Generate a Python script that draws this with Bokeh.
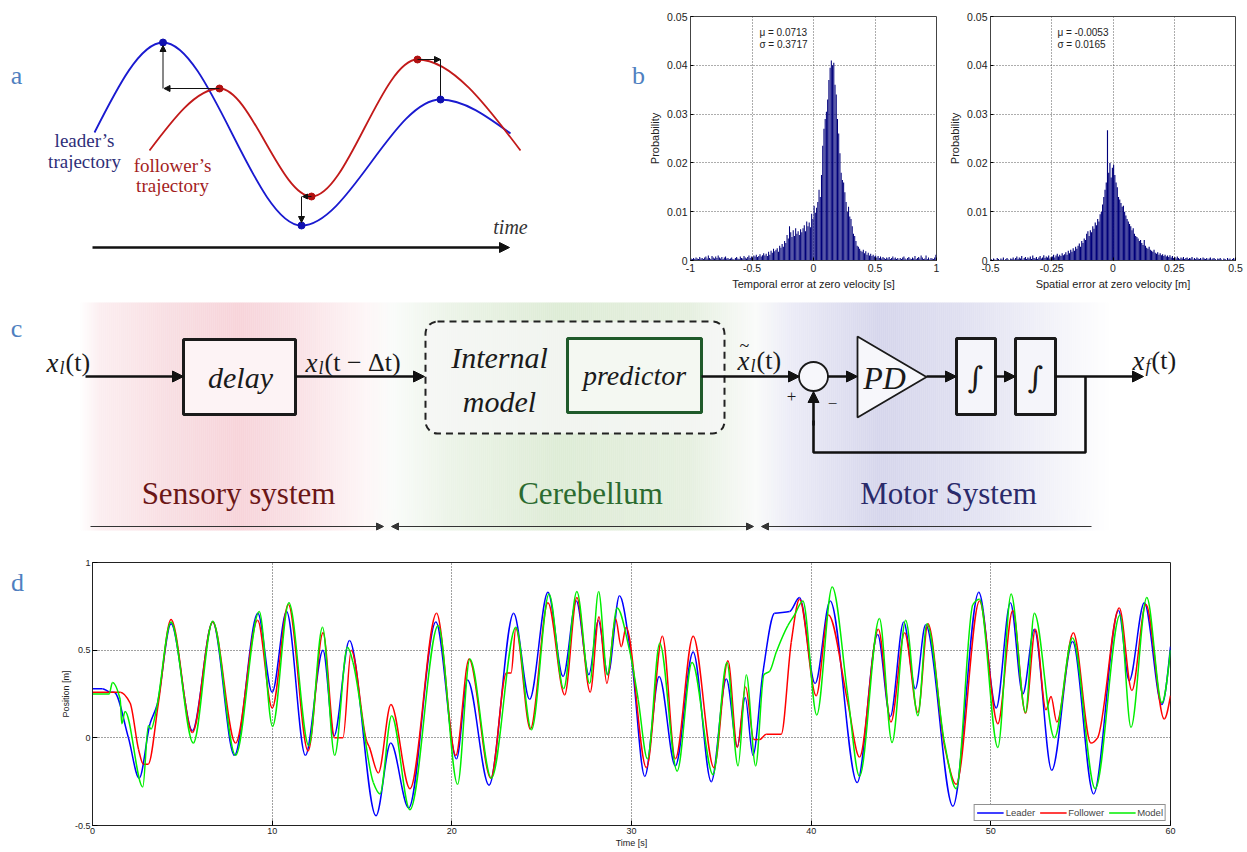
import numpy as np
from bokeh.plotting import figure
from bokeh.layouts import column, row
from bokeh.models import (Range1d, Label, Arrow, NormalHead, FixedTicker,
                          BoxAnnotation, Legend)
from bokeh.embed import file_html
from bokeh.resources import INLINE

# ---------------- panel a: schematic trajectories (extrema, page px) ----
a_leader_x = [94, 162.5, 301, 440, 510]
a_leader_y = [132, 42, 225, 99, 133]
a_follower_x = [149, 219, 311, 417, 520]
a_follower_y = [150, 88, 196, 59, 150]

# ---------------- panel b: histograms ----------------
temporal_values = [
    0.0004, 0.0003, 0.0005, 0.0003, 0.0006, 0.0004, 0.0003, 0.0007, 0.0004, 0.0005,
    0.0003, 0.0006, 0.0008, 0.0004, 0.0010, 0.0005, 0.0003, 0.0009, 0.0006, 0.0004,
    0.0008, 0.0005, 0.0010, 0.0006, 0.0004, 0.0007, 0.0003, 0.0006, 0.0008, 0.0004,
    0.0005, 0.0003, 0.0004, 0.0006, 0.0003, 0.0002, 0.0005, 0.0007, 0.0004, 0.0003,
    0.0008, 0.0005, 0.0004, 0.0009, 0.0006, 0.0004, 0.0007, 0.0010, 0.0005, 0.0008,
    0.0006, 0.0010, 0.0008, 0.0012, 0.0007, 0.0009, 0.0013, 0.0008, 0.0011, 0.0015,
    0.0010, 0.0014, 0.0009, 0.0018, 0.0012, 0.0020, 0.0016, 0.0024, 0.0019, 0.0022,
    0.0025, 0.0018, 0.0030, 0.0026, 0.0034, 0.0028, 0.0040, 0.0036, 0.0052, 0.0045,
    0.0070, 0.0058, 0.0048, 0.0062, 0.0050, 0.0066, 0.0055, 0.0060, 0.0052, 0.0064,
    0.0058, 0.0066, 0.0072, 0.0060, 0.0080, 0.0070, 0.0078, 0.0068, 0.0096, 0.0085,
    0.0112, 0.0098, 0.0108, 0.0120, 0.0145, 0.0130, 0.0175, 0.0235, 0.0270, 0.0290,
    0.0305, 0.0330, 0.0370, 0.0395, 0.0410, 0.0400, 0.0405, 0.0360, 0.0340, 0.0290,
    0.0260, 0.0220, 0.0180, 0.0165, 0.0160, 0.0140, 0.0120, 0.0100, 0.0110, 0.0090,
    0.0085, 0.0070, 0.0055, 0.0050, 0.0040, 0.0030, 0.0028, 0.0024, 0.0020, 0.0018,
    0.0022, 0.0015, 0.0019, 0.0012, 0.0016, 0.0010, 0.0014, 0.0009, 0.0012, 0.0008,
    0.0010, 0.0006, 0.0009, 0.0005, 0.0008, 0.0004, 0.0007, 0.0005, 0.0003, 0.0006,
    0.0004, 0.0007, 0.0003, 0.0005, 0.0008, 0.0004, 0.0006, 0.0003, 0.0005, 0.0002,
    0.0005, 0.0003, 0.0006, 0.0008, 0.0004, 0.0002, 0.0005, 0.0007, 0.0004, 0.0003,
    0.0006, 0.0004, 0.0009, 0.0003, 0.0005, 0.0007, 0.0004, 0.0010, 0.0006, 0.0003,
    0.0004, 0.0010, 0.0003, 0.0006, 0.0002, 0.0005, 0.0004, 0.0003, 0.0006, 0.0012]
spatial_values = [
    0.0003, 0.0000, 0.0004, 0.0002, 0.0000, 0.0005, 0.0003, 0.0000, 0.0004, 0.0002,
    0.0006, 0.0000, 0.0003, 0.0005, 0.0002, 0.0000, 0.0004, 0.0003, 0.0006, 0.0002,
    0.0005, 0.0008, 0.0003, 0.0006, 0.0004, 0.0009, 0.0002, 0.0005, 0.0007, 0.0003,
    0.0006, 0.0004, 0.0008, 0.0003, 0.0010, 0.0005, 0.0004, 0.0007, 0.0003, 0.0006,
    0.0009, 0.0004, 0.0006, 0.0011, 0.0005, 0.0008, 0.0006, 0.0010, 0.0004, 0.0007,
    0.0008, 0.0012, 0.0006, 0.0010, 0.0014, 0.0008, 0.0012, 0.0009, 0.0015, 0.0011,
    0.0013, 0.0017, 0.0012, 0.0020, 0.0015, 0.0022, 0.0018, 0.0025, 0.0020, 0.0028,
    0.0024, 0.0030, 0.0035, 0.0028, 0.0040, 0.0036, 0.0045, 0.0042, 0.0055, 0.0060,
    0.0050, 0.0062, 0.0058, 0.0070, 0.0065, 0.0078, 0.0072, 0.0085, 0.0080, 0.0095,
    0.0100, 0.0115, 0.0130, 0.0145, 0.0160, 0.0267, 0.0180, 0.0200, 0.0170, 0.0190,
    0.0196, 0.0175, 0.0160, 0.0150, 0.0130, 0.0125, 0.0118, 0.0110, 0.0112, 0.0100,
    0.0092, 0.0085, 0.0080, 0.0075, 0.0070, 0.0062, 0.0066, 0.0055, 0.0050, 0.0048,
    0.0045, 0.0040, 0.0042, 0.0036, 0.0032, 0.0042, 0.0030, 0.0026, 0.0024, 0.0028,
    0.0022, 0.0020, 0.0018, 0.0022, 0.0016, 0.0014, 0.0017, 0.0012, 0.0015, 0.0011,
    0.0013, 0.0009, 0.0012, 0.0008, 0.0010, 0.0007, 0.0011, 0.0006, 0.0009, 0.0005,
    0.0007, 0.0004, 0.0008, 0.0005, 0.0003, 0.0006, 0.0004, 0.0007, 0.0003, 0.0005,
    0.0006, 0.0003, 0.0005, 0.0004, 0.0007, 0.0002, 0.0005, 0.0003, 0.0006, 0.0004,
    0.0003, 0.0005, 0.0002, 0.0006, 0.0004, 0.0003, 0.0005, 0.0002, 0.0004, 0.0006,
    0.0002, 0.0004, 0.0005, 0.0003, 0.0000, 0.0004, 0.0003, 0.0005, 0.0002, 0.0000,
    0.0004, 0.0003, 0.0000, 0.0005, 0.0002, 0.0004, 0.0000, 0.0003, 0.0005, 0.0002]
temporal_ticks = [-1, -0.5, 0, 0.5, 1]
temporal_tick_labels = ["-1", "-0.5", "0", "0.5", "1"]
spatial_ticks = [-0.5, -0.25, 0, 0.25, 0.5]
spatial_tick_labels = ["-0.5", "-0.25", "0", "0.25", "0.5"]
prob_ticks = [0, 0.01, 0.02, 0.03, 0.04, 0.05]
prob_tick_labels = ["0", "0.01", "0.02", "0.03", "0.04", "0.05"]

# ---------------- panel d: time series (turning points) ----------------
leader_t = [0, 0.55, 1.0, 1.2, 2.0, 2.6, 3.2, 3.6, 4.37, 5.56, 6.69, 7.9, 9.2, 10.0, 10.8,
            11.85, 12.83, 13.44, 14.3, 15.78, 16.6, 17.6, 19.11, 20.26, 20.87, 22.07, 23.44,
            24.33, 25.35, 26.19, 26.93, 27.63, 28.15, 28.69, 29.33, 30.0, 30.74, 31.54, 32.44,
            33.43, 34.44, 35.28, 35.89, 36.33, 36.76, 37.31, 37.96, 38.8, 39.35, 40.22, 41.06,
            42.56, 43.7, 44.4, 45.15, 45.8, 46.37, 47.89, 49.33, 50.3, 51.09, 51.78, 52.42,
            53.39, 54.55, 55.72, 57.11, 57.7, 58.54, 59.52, 60.0]
leader_v = [0.28, 0.28, 0.26, 0.26, 0.0, -0.23, 0.08, 0.19, 0.65, 0.04, 0.66, -0.10, 0.71, 0.26, 0.72,
            -0.10, 0.50, 0.01, 0.555, -0.445, -0.03, -0.40, 0.66, -0.12, 0.33, -0.27, 0.71,
            0.22, 0.83, 0.35, 0.78, 0.36, 0.67, 0.36, 0.81, 0.45, -0.22, 0.35, -0.16,
            0.49, -0.25, 0.335, -0.05, 0.23, -0.10, 0.37, 0.71, 0.72, 0.80, 0.31, 0.78,
            -0.255, 0.59, 0.12, 0.66, 0.28, 0.645, -0.39, 0.83, 0.17, 0.77, 0.25, 0.62,
            -0.185, 0.55, -0.32, 0.726, 0.326, 0.77, 0.19, 0.52]
follower_t = [0, 1.55, 2.09, 2.56, 2.83, 3.1, 3.67, 4.37, 5.56, 6.69, 7.96, 9.19, 10.0, 10.9,
              12.0, 12.83, 13.48, 13.94, 14.4, 15.26, 15.4, 15.91, 16.61, 17.67, 19.15, 20.22,
              20.96, 22.17, 23.04, 23.3, 23.56, 24.37, 25.35, 26.28, 26.96, 27.7, 28.19, 28.63,
              29.11, 29.43, 29.7, 30.83, 31.72, 32.44, 33.43, 34.59, 35.37, 35.89, 36.35, 36.81,
              37.13, 37.5, 38.33, 38.89, 39.35, 40.28, 40.96, 42.04, 42.69, 43.74, 44.44, 45.2,
              45.94, 46.5, 47.42, 48.07, 49.37, 50.39, 51.22, 51.93, 52.48, 53.07, 53.35, 53.67,
              54.59, 55.57, 55.94, 57.15, 57.85, 58.63, 59.65, 60.0]
follower_v = [0.26, 0.26, 0.20, -0.065, -0.15, -0.15, 0.20, 0.675, 0.03, 0.66, -0.03, 0.67, 0.17, 0.76,
              -0.075, 0.60, 0.0, 0.0, 0.50, -0.02, -0.05, -0.20, 0.19, -0.29, 0.71, -0.10,
              0.45, -0.23, 0.37, 0.37, 0.625, 0.05, 0.77, 0.245, 0.80, 0.26, 0.69, 0.31,
              0.68, 0.52, 0.63, -0.17, 0.58, -0.12, 0.58, -0.17, 0.44, -0.055, 0.29, -0.01,
              -0.01, 0.02, 0.02, 0.545, 0.79, 0.24, 0.70, 0.20, -0.11, 0.62, 0.09, 0.60,
              0.145, 0.65, -0.045, -0.265, 0.78, 0.08, 0.726, 0.14, 0.62, 0.16, 0.236, 0.09,
              0.60, -0.03, 0.0, 0.74, 0.27, 0.76, 0.107, 0.24]
model_t = [0, 0.93, 1.11, 1.54, 1.63, 1.81, 2.8, 3.11, 3.26, 3.57, 4.37, 5.61, 6.69, 7.96, 9.28,
           10.02, 10.93, 12.04, 12.8, 13.48, 14.19, 14.5, 15.63, 16.0, 16.65, 17.67, 19.24, 20.32,
           21.0, 22.2, 23.56, 24.43, 25.41, 26.22, 26.96, 27.67, 28.17, 28.65, 29.2, 29.89, 30.37,
           30.89, 31.57, 32.54, 33.37, 34.54, 35.31, 35.93, 36.39, 36.91, 37.37, 37.69, 38.06,
           38.7, 39.07, 39.54, 40.31, 41.17, 42.04, 42.69, 43.8, 44.5, 45.26, 45.94, 46.44,
           47.42, 48.07, 49.0, 49.37, 50.39, 51.13, 51.93, 52.42, 53.54, 54.55, 55.81, 57.19,
           57.8, 58.68, 59.52, 60.0]
model_v = [0.25, 0.25, 0.316, 0.22, 0.08, 0.15, -0.28, 0.07, 0.05, 0.17, 0.66, -0.03, 0.665, -0.10, 0.72,
           0.065, 0.77, -0.045, 0.63, -0.10, 0.516, 0.43, -0.255, -0.32, 0.126, -0.41, 0.64, -0.265,
           0.45, -0.23, 0.63, 0.046, 0.82, 0.28, 0.834, 0.31, 0.834, 0.36, 0.74, 0.50, 0.22,
           -0.12, 0.54, -0.19, 0.43, -0.21, 0.43, -0.16, 0.36, -0.16, 0.36, 0.38, 0.49,
           0.64, 0.70, 0.78, 0.13, 0.86, 0.24, -0.22, 0.68, -0.027, 0.67, 0.126, 0.65,
           -0.027, -0.29, 0.76, 0.79, -0.055, 0.82, 0.145, 0.71, 0.0, 0.57, -0.29, 0.70,
           0.06, 0.80, 0.20, 0.50]
series_names = ["Leader", "Follower", "Model"]
time_ticks = [0, 10, 20, 30, 40, 50, 60]
pos_ticks = [-0.5, 0, 0.5, 1]
pos_tick_labels = ["-0.5", "0", "0.5", "1"]

SERIF = "Liberation Serif"
SANS = "Liberation Sans"
PANEL_BLUE = "#4f7fc0"


def no_align(p):
    if "frame_align" in p.properties():
        p.frame_align = False
    return p


def lab(p, x, y, text, size, color="#1a1a1a", font=SERIF, style="normal",
        align="center", baseline="middle"):
    p.add_layout(Label(x=x, y=y, text=text, text_font_size=f"{size}px", text_color=color,
                       text_font=font, text_font_style=style, text_align=align,
                       text_baseline=baseline))


def smooth(p, xs, ys, color, width):
    """Draw a smooth curve through the read points with cubic Bezier segments."""
    xs = np.asarray(xs, float)
    ys = np.asarray(ys, float)
    n = len(xs)
    d = np.diff(ys) / np.diff(xs)
    m = np.zeros(n)
    for i in range(1, n - 1):
        if d[i - 1] * d[i] > 0:
            m[i] = 2.0 / (1.0 / d[i - 1] + 1.0 / d[i])
    m[0] = (3 * d[0] - m[1]) / 2
    m[-1] = (3 * d[-1] - m[-2]) / 2
    h = np.diff(xs)
    return p.bezier(x0=xs[:-1], y0=ys[:-1], x1=xs[1:], y1=ys[1:],
                    cx0=xs[:-1] + h / 3, cy0=ys[:-1] + m[:-1] * h / 3,
                    cx1=xs[1:] - h / 3, cy1=ys[1:] - m[1:] * h / 3,
                    line_color=color, line_width=width)


def arrow(p, x0, y0, x1, y1, width=1.0, size=6, color="#111111", both=False):
    def head():
        return NormalHead(size=size, fill_color=color, line_color=color, line_width=1)
    p.add_layout(Arrow(x_start=x0, y_start=y0, x_end=x1, y_end=y1, line_width=width,
                       line_color=color, end=head(), start=head() if both else None))


def blank(width, height, x0, x1, y0, y1):
    p = figure(width=width, height=height, x_range=Range1d(x0, x1), y_range=Range1d(y1, y0),
               x_axis_type=None, y_axis_type=None, min_border=0, outline_line_color=None,
               toolbar_location=None, output_backend="svg")
    return no_align(p)


# ================= panel a =================
pa = blank(646, 298, 0, 646, 0, 298)
smooth(pa, a_leader_x, a_leader_y, "#1a1ad0", 1.8)
smooth(pa, a_follower_x, a_follower_y, "#c21a1a", 1.8)
lx, ly, fx, fy = a_leader_x, a_leader_y, a_follower_x, a_follower_y
arrow(pa, lx[1], fy[1], lx[1], ly[1] + 3, size=6)
arrow(pa, fx[1], fy[1], lx[1] + 1, fy[1], size=6)
arrow(pa, lx[2], fy[2], lx[2], ly[2] - 3, size=6)
arrow(pa, fx[2], fy[2], lx[2] + 1, fy[2], size=5)
arrow(pa, fx[3], fy[3], lx[3], fy[3], size=6)
pa.line([lx[3], lx[3]], [fy[3], ly[3]], line_color="#111111", line_width=1)
pa.scatter(lx[1:4], ly[1:4], size=7, color="#1010b0")
pa.scatter(fx[1:4], fy[1:4], size=7, color="#b01010")
arrow(pa, 92, 247, 509, 247, width=2.6, size=10)
lab(pa, 84, 140, "leader’s", 19, color="#2e2e78")
lab(pa, 84, 161, "trajectory", 19, color="#2e2e78")
lab(pa, 172, 165, "follower’s", 19, color="#a31d1d")
lab(pa, 172, 185, "trajectory", 19, color="#a31d1d")
lab(pa, 510, 226, "time", 20, color="#333333", style="italic")
lab(pa, 16, 75, "a", 26, color=PANEL_BLUE)
lab(pa, 638, 75, "b", 26, color=PANEL_BLUE)


# ================= panel b =================
def hist_panel(width, right_border, xr, vals, bin_w, bar_w, xt, xtl, xlabel, mu, sig, tx):
    p = figure(width=width, height=298, x_range=Range1d(*xr), y_range=Range1d(0, 0.05),
               min_border_left=44, min_border_right=right_border, min_border_top=16,
               min_border_bottom=38, toolbar_location=None, output_backend="svg")
    no_align(p)
    centers = xr[0] + bin_w / 2 + bin_w * np.arange(len(vals))
    p.vbar(x=centers, width=bar_w, top=vals, bottom=0, fill_color="#00007a", line_color=None)
    p.xaxis.ticker = FixedTicker(ticks=xt)
    p.xaxis.major_label_overrides = dict(zip(xt, xtl))
    p.yaxis.ticker = FixedTicker(ticks=prob_ticks)
    p.yaxis.major_label_overrides = dict(zip(prob_ticks, prob_tick_labels))
    p.xgrid.ticker = FixedTicker(ticks=xt[1:-1])
    p.ygrid.ticker = FixedTicker(ticks=prob_ticks[1:-1])
    for g in (p.xgrid, p.ygrid):
        g.grid_line_color = "#333333"
        g.grid_line_dash = "1 2"
        g.grid_line_alpha = 0.8
    for ax in (p.xaxis, p.yaxis):
        ax.major_label_text_font = SANS
        ax.major_label_text_font_size = "10.5px"
        ax.major_label_text_color = "#222222"
        ax.axis_label_text_font = SANS
        ax.axis_label_text_font_size = "11px"
        ax.axis_label_text_font_style = "normal"
        ax.axis_label_text_color = "#222222"
        ax.major_tick_in = 3
        ax.major_tick_out = 0
        ax.minor_tick_line_color = None
        ax.axis_line_color = "#444444"
        ax.major_label_standoff = 3
        ax.axis_label_standoff = 3
    p.xaxis.axis_label = xlabel
    p.yaxis.axis_label = "Probability"
    p.outline_line_color = "#444444"
    lab(p, tx, 0.0467, mu, 10, color="#222222", font=SANS, align="left")
    lab(p, tx, 0.0442, sig, 10, color="#222222", font=SANS, align="left")
    return p


pb1 = hist_panel(300, 10, (-1, 1), temporal_values, 0.01, 0.0085, temporal_ticks,
                 temporal_tick_labels, "Temporal error at zero velocity [s]",
                 "μ = 0.0713", "σ = 0.3717", -0.44)
pb2 = hist_panel(299, 10, (-0.5, 0.5), spatial_values, 0.005, 0.0046, spatial_ticks,
                 spatial_tick_labels, "Spatial error at zero velocity [m]",
                 "μ = -0.0053", "σ = 0.0165", -0.227)

# ================= panel c =================
pc = blank(1245, 250, 0, 1245, 298, 548)
grad_x = [80, 100, 160, 240, 300, 365, 392, 450, 560, 690, 755, 790, 880, 960, 1040, 1108]
grad_r = [255, 252, 249, 247, 250, 254, 250, 236, 222, 230, 250, 236, 214, 224, 240, 255]
grad_g = [255, 238, 224, 212, 226, 246, 252, 244, 236, 240, 251, 236, 214, 224, 240, 255]
grad_b = [255, 240, 228, 218, 230, 247, 250, 232, 214, 224, 250, 247, 236, 241, 248, 255]
sx = np.arange(80, 1108, 2.0)
rr = np.interp(sx + 1, grad_x, grad_r)
gg = np.interp(sx + 1, grad_x, grad_g)
bb = np.interp(sx + 1, grad_x, grad_b)
cols = ["#%02x%02x%02x" % (int(a), int(b), int(c)) for a, b, c in zip(rr, gg, bb)]
pc.quad(left=sx, right=sx + 2.3, top=302, bottom=530, fill_color=cols, line_color=None)

pc.quad(left=[183], right=[295], top=[339], bottom=[414], fill_color="#fdf3f5",
        line_color="#1a1a1a", line_width=3)
pc.quad(left=[956, 1015], right=[995, 1055], top=[338, 338], bottom=[414, 414],
        fill_color="#f5f5fa", line_color="#1a1a1a", line_width=3)
pc.patch([857, 857, 926], [336, 417, 376.5], fill_color="#f7f7fb", line_color="#1a1a1a",
         line_width=1.8)
pc.scatter([813], [376], size=29, fill_color="#f7f7fb", line_color="#1a1a1a", line_width=1.8)
pc.line([1085, 1085, 813, 813], [376, 452, 452, 420], line_color="#111111", line_width=2.6)
# internal-model box and predictor box (annotations, drawn in this order)
pc.add_layout(BoxAnnotation(left=425, right=724, top=321, bottom=433, fill_color="#f7f7f7",
                            fill_alpha=0.75, line_color="#222222", line_alpha=1.0,
                            line_width=2, line_dash="7 5", border_radius=12))
pc.add_layout(BoxAnnotation(left=567, right=701, top=338, bottom=412, fill_color="#f4f8f2",
                            fill_alpha=1.0, line_color="#1f5a2a", line_alpha=1.0,
                            line_width=3))

for x0, x1 in [(85, 183), (295, 424), (701, 799), (827, 857), (926, 956), (995, 1015),
               (1055, 1143)]:
    arrow(pc, x0, 376, x1, 376, width=2.6, size=11)
arrow(pc, 813, 425, 813, 391, width=2.6, size=11)

lab(pc, 240, 377, "delay", 30, style="italic")
lab(pc, 499, 357, "Internal", 30, style="italic")
lab(pc, 499, 401, "model", 30, style="italic")
lab(pc, 634, 375, "predictor", 28, style="italic")
lab(pc, 884, 377, "PD", 32, style="italic")
lab(pc, 975, 377, "∫", 30, font="DejaVu Serif", style="italic")
lab(pc, 1035, 377, "∫", 30, font="DejaVu Serif", style="italic")
lab(pc, 791, 396, "+", 17)
lab(pc, 832, 403, "−", 17)


def math_lab(p, x, base, sub, rest, tilde=False):
    lab(p, x, base, "x", 27, style="italic", align="left", baseline="alphabetic")
    if tilde:
        lab(p, x + 2, base - 15, "~", 18, align="left", baseline="alphabetic")
    lab(p, x + 13, base + 5, sub, 18, style="italic", align="left", baseline="alphabetic")
    lab(p, x + 19, base, rest, 26, align="left", baseline="alphabetic")


math_lab(pc, 46, 362, "l", "(t)")
math_lab(pc, 305, 362, "l", "(t − Δt)")
math_lab(pc, 737, 360, "l", "(t)", tilde=True)
math_lab(pc, 1132, 360, "f", " (t)")

lab(pc, 238, 493, "Sensory system", 31, color="#6b1616")
lab(pc, 590, 493, "Cerebellum", 31, color="#2b6b30")
lab(pc, 948, 493, "Motor System", 31, color="#2a2a6a")
lab(pc, 16, 328, "c", 26, color=PANEL_BLUE)

arrow(pc, 90, 526, 383, 526, width=1, size=7, color="#333333")
arrow(pc, 391, 526, 753, 526, width=1, size=7, color="#333333", both=True)
arrow(pc, 1091, 526, 761, 526, width=1, size=7, color="#333333")

# ================= panel d =================
pdl = blank(40, 302, 0, 40, 548, 850)
lab(pdl, 17, 582, "d", 26, color=PANEL_BLUE)

pd_ = figure(width=1205, height=302, x_range=Range1d(0, 60), y_range=Range1d(-0.5, 1),
             min_border_left=52, min_border_right=75, min_border_top=14, min_border_bottom=25,
             toolbar_location=None, output_backend="svg")
no_align(pd_)
colors = ["#0000ff", "#ff0000", "#00ee00"]
rends = []
for (tt, vv), c in zip([(leader_t, leader_v), (follower_t, follower_v), (model_t, model_v)],
                       colors):
    rends.append(smooth(pd_, tt, vv, c, 1.5))
pd_.xaxis.ticker = FixedTicker(ticks=time_ticks)
pd_.yaxis.ticker = FixedTicker(ticks=pos_ticks)
pd_.yaxis.major_label_overrides = dict(zip(pos_ticks, pos_tick_labels))
pd_.xgrid.ticker = FixedTicker(ticks=time_ticks[1:-1])
pd_.ygrid.ticker = FixedTicker(ticks=[0, 0.5])
for g in (pd_.xgrid, pd_.ygrid):
    g.grid_line_color = "#222222"
    g.grid_line_dash = "1 2"
    g.grid_line_alpha = 0.85
for ax in (pd_.xaxis, pd_.yaxis):
    ax.major_label_text_font = SANS
    ax.major_label_text_font_size = "9px"
    ax.major_label_text_color = "#222222"
    ax.axis_label_text_font = SANS
    ax.axis_label_text_font_size = "9px"
    ax.axis_label_text_font_style = "normal"
    ax.axis_label_text_color = "#222222"
    ax.major_tick_in = 5
    ax.major_tick_out = 0
    ax.minor_tick_line_color = None
    ax.axis_line_color = "#222222"
    ax.major_label_standoff = 2
    ax.axis_label_standoff = 1
pd_.xaxis.axis_label = "Time [s]"
pd_.yaxis.axis_label = "Position [m]"
pd_.outline_line_color = "#222222"
legend = Legend(items=[(n, [r]) for n, r in zip(series_names, rends)],
                location="bottom_right", orientation="horizontal",
                label_text_font=SANS, label_text_font_size="9.5px",
                glyph_width=27, glyph_height=9, label_height=9, padding=2, spacing=4,
                margin=4, label_standoff=2, border_line_color="#222222",
                background_fill_alpha=1.0)
pd_.add_layout(legend)

layout = column(row(pa, pb1, pb2, spacing=0), pc, row(pdl, pd_, spacing=0), spacing=0)
open("out.html", "w").write(file_html(layout, INLINE))
